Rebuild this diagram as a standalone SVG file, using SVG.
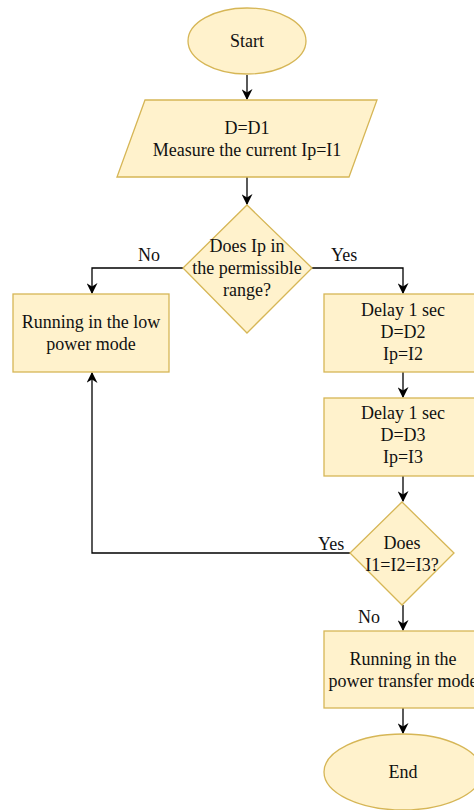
<svg xmlns="http://www.w3.org/2000/svg" width="474" height="810" viewBox="0 0 474 810">
<defs>
<style>
.n{fill:#fff2cc;stroke:#d6b656;stroke-width:1.3}
.t{font-family:"Liberation Serif","Times New Roman",serif;font-size:18px;fill:#111;text-anchor:middle}
.l{font-family:"Liberation Serif","Times New Roman",serif;font-size:18px;fill:#111}
.c{fill:none;stroke:#000;stroke-width:1.3}
</style>
<marker id="a" viewBox="0 0 10 10" refX="9" refY="5" markerWidth="11" markerHeight="11" markerUnits="userSpaceOnUse" orient="auto">
<path d="M0,0 L10,5 L0,10 L3,5 Z" fill="#000"/>
</marker>
</defs>
<rect width="474" height="810" fill="#fff"/>
<g id="connectors">
<path class="c" d="M247,75 V99" marker-end="url(#a)"/>
<path class="c" d="M247,177 V204" marker-end="url(#a)"/>
<path class="c" d="M183,268 H92 V293" marker-end="url(#a)"/>
<path class="c" d="M312,268 H403 V293" marker-end="url(#a)"/>
<path class="c" d="M403,372 V397" marker-end="url(#a)"/>
<path class="c" d="M403,476 V501" marker-end="url(#a)"/>
<path class="c" d="M350,553 H92 V373" marker-end="url(#a)"/>
<path class="c" d="M403,605 V630" marker-end="url(#a)"/>
<path class="c" d="M403,708 V733" marker-end="url(#a)"/>
<text class="l" x="138" y="261">No</text>
<text class="l" x="331" y="261">Yes</text>
<text class="l" x="318" y="550">Yes</text>
<text class="l" x="358" y="623">No</text>
</g>
<g id="start">
<ellipse class="n" cx="247" cy="41" rx="59" ry="33"/>
<text class="t" x="247" y="47">Start</text>
</g>
<g id="measure">
<polygon class="n" points="145,100 377,100 349,177 117,177"/>
<text class="t" x="247" y="134">D=D1</text>
<text class="t" x="247" y="156">Measure the current Ip=I1</text>
</g>
<g id="decision1">
<polygon class="n" points="247,205 312,268 247,333 183,268"/>
<text class="t" x="247" y="252">Does Ip in</text>
<text class="t" x="247" y="274">the permissible</text>
<text class="t" x="247" y="296">range?</text>
</g>
<g id="lowpower">
<rect class="n" x="13" y="294" width="156" height="78"/>
<text class="t" x="91" y="328">Running in the low</text>
<text class="t" x="91" y="350">power mode</text>
</g>
<g id="delay1">
<rect class="n" x="324" y="294" width="158" height="78"/>
<text class="t" x="403" y="316">Delay 1 sec</text>
<text class="t" x="403" y="338">D=D2</text>
<text class="t" x="403" y="360">Ip=I2</text>
</g>
<g id="delay2">
<rect class="n" x="324" y="398" width="158" height="78"/>
<text class="t" x="403" y="419">Delay 1 sec</text>
<text class="t" x="403" y="441">D=D3</text>
<text class="t" x="403" y="463">Ip=I3</text>
</g>
<g id="decision2">
<polygon class="n" points="402,502 454,553 402,605 350,553"/>
<text class="t" x="402" y="549">Does</text>
<text class="t" x="402" y="571">I1=I2=I3?</text>
</g>
<g id="transfer">
<rect class="n" x="324" y="631" width="158" height="77"/>
<text class="t" x="403" y="665">Running in the</text>
<text class="t" x="403" y="687">power transfer mode</text>
</g>
<g id="end">
<ellipse class="n" cx="403" cy="772" rx="79" ry="38"/>
<text class="t" x="403" y="778">End</text>
</g>
</svg>
